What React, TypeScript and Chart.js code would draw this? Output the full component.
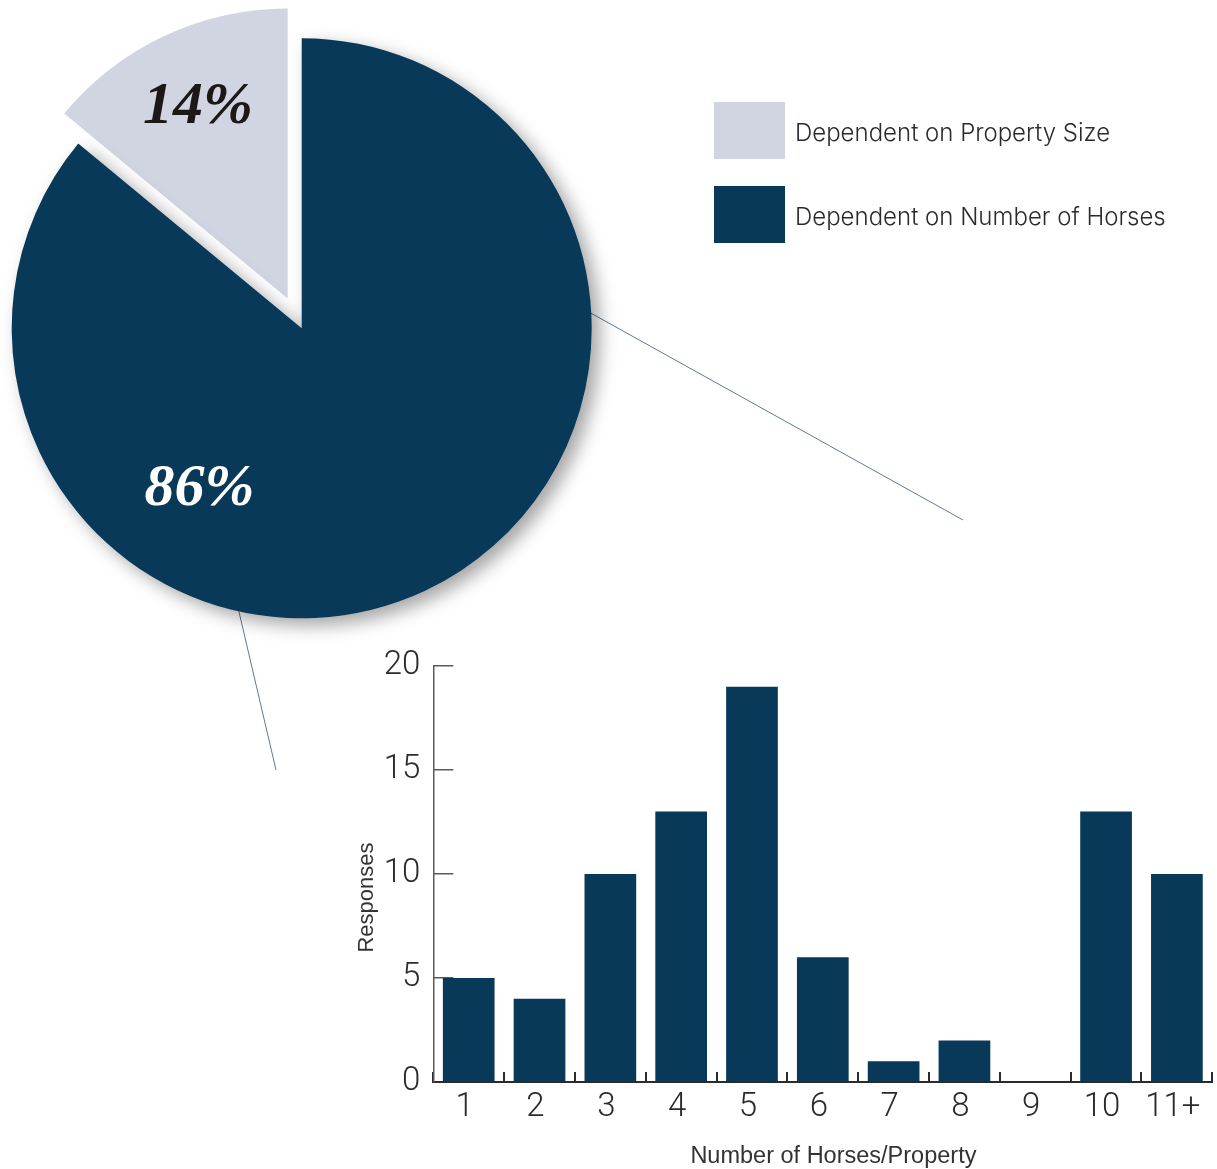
import React, { useEffect, useRef } from 'react';
import { Chart, registerables } from 'chart.js';

Chart.register(...registerables);

// ---------- data ----------
const shareLabels = ['Dependent on Property Size', 'Dependent on Number of Horses'];
const shareValues = [14, 86];
const shareColors = ['#d0d5e1', '#083958'];
const shareTextColors = ['#1c1818', '#ffffff'];

const horseCategories = ['1', '2', '3', '4', '5', '6', '7', '8', '9', '10', '11+'];
const horseResponses = [5, 4, 10, 13, 19, 6, 1, 2, 0, 13, 10];
const responseTicks = [0, 5, 10, 15, 20];

const xTitle = 'Number of Horses/Property';
const yTitle = 'Responses';

// ---------- styling constants ----------
const NAVY = '#083958';
const EXPLODE = [33, 0];
const CASTS_SHADOW = [false, true];
const PIE_LABEL_POS = [
  { r: 0.727, da: 0 },
  { r: 0.657, da: 57.6 },
];

const pieDecor = {
  id: 'pieDecor',
  afterDatasetsUpdate(chart: any) {
    const meta = chart.getDatasetMeta(0);
    meta.data.forEach((arc: any, i: number) => {
      const d = EXPLODE[i] || 0;
      if (d) {
        const mid = (arc.startAngle + arc.endAngle) / 2;
        arc.x += Math.cos(mid) * d;
        arc.y += Math.sin(mid) * d;
      }
      if (!CASTS_SHADOW[i] && !arc.__noShadow) {
        const orig = Object.getPrototypeOf(arc).draw;
        arc.draw = function (ctx: CanvasRenderingContext2D) {
          ctx.save();
          ctx.shadowColor = 'rgba(0,0,0,0)';
          ctx.shadowBlur = 0;
          orig.call(this, ctx);
          ctx.restore();
        };
        arc.__noShadow = true;
      }
    });
  },
  beforeDatasetsDraw(chart: any) {
    const ctx = chart.ctx;
    const meta = chart.getDatasetMeta(0);
    const main = meta.data[1];
    const R = main.outerRadius;
    // connector lines from the pie edge toward the bar chart
    const conns = [
      { a: -3.2, end: [963, 520] },
      { a: 102.7, end: [276, 770] },
    ];
    ctx.save();
    ctx.strokeStyle = '#5f7a8f';
    ctx.lineWidth = 1;
    conns.forEach((c) => {
      const t = (c.a * Math.PI) / 180;
      ctx.beginPath();
      ctx.moveTo(main.x + Math.cos(t) * (R - 2), main.y + Math.sin(t) * (R - 2));
      ctx.lineTo(c.end[0], c.end[1]);
      ctx.stroke();
    });
    ctx.restore();
    ctx.save();
    ctx.shadowColor = 'rgba(0,0,0,0.36)';
    ctx.shadowBlur = 18;
    ctx.shadowOffsetX = 8;
    ctx.shadowOffsetY = 7;
  },
  afterDatasetsDraw(chart: any) {
    const ctx = chart.ctx;
    ctx.restore();
    const meta = chart.getDatasetMeta(0);
    ctx.save();
    ctx.font = 'italic 700 60px "Liberation Serif", "DejaVu Serif", serif';
    ctx.textAlign = 'center';
    ctx.textBaseline = 'middle';
    meta.data.forEach((arc: any, i: number) => {
      const p = PIE_LABEL_POS[i];
      const mid = (arc.startAngle + arc.endAngle) / 2 + (p.da * Math.PI) / 180;
      const r = arc.outerRadius * p.r;
      ctx.fillStyle = shareTextColors[i];
      ctx.fillText(`${shareValues[i]}%`, arc.x + Math.cos(mid) * r, arc.y + Math.sin(mid) * r);
    });
    ctx.restore();
  },
  afterDraw(chart: any) {
    const ctx = chart.ctx;
    const lx = 714;
    const ly = 102;
    const bw = 71;
    const bh = 57;
    const gap = 84;
    ctx.save();
    shareLabels.forEach((lab, i) => {
      ctx.fillStyle = shareColors[i];
      ctx.fillRect(lx, ly + i * gap, bw, bh);
      ctx.fillStyle = '#2b2b2b';
      ctx.font = '300 24px Inter, "Noto Sans", sans-serif';
      ctx.textAlign = 'left';
      ctx.textBaseline = 'alphabetic';
      ctx.fillText(lab, lx + bw + 10, ly + i * gap + 38.5);
    });
    ctx.restore();
  },
};

const barTitles = {
  id: 'barTitles',
  afterDraw(chart: any) {
    const { ctx, chartArea: a } = chart;
    ctx.save();
    ctx.fillStyle = '#333333';
    ctx.textAlign = 'center';
    ctx.textBaseline = 'alphabetic';
    ctx.font = '23.5px "Liberation Sans", Arial, sans-serif';
    ctx.fillText(xTitle, (a.left + a.right) / 2 + 10.6, a.bottom + 81.3);
    ctx.translate(a.left - 60, (a.top + a.bottom) / 2 + 23.5);
    ctx.rotate(-Math.PI / 2);
    ctx.font = '22px "Liberation Sans", Arial, sans-serif';
    ctx.fillText(yTitle, 0, 0);
    ctx.restore();
  },
};

function PieChart() {
  const ref = useRef<HTMLCanvasElement | null>(null);
  useEffect(() => {
    if (!ref.current) return;
    const sum = shareValues.reduce((s, v) => s + v, 0);
    const chart = new Chart(ref.current, {
      type: 'pie',
      data: {
        labels: shareLabels,
        datasets: [
          {
            data: shareValues,
            backgroundColor: shareColors,
            borderWidth: 0,
            hoverOffset: 0,
          },
        ],
      },
      options: {
        animation: false,
        responsive: true,
        maintainAspectRatio: false,
        events: [],
        rotation: (-360 * shareValues[0]) / sum,
        radius: 290,
        layout: { padding: { left: 0, top: 0, right: 1217 - 603.4, bottom: 1169 - 656.6 } },
        plugins: { legend: { display: false }, tooltip: { enabled: false } },
      } as any,
      plugins: [pieDecor],
    });
    return () => chart.destroy();
  }, []);
  return (
    <div style={{ position: 'absolute', left: 0, top: 0, width: 1217, height: 1169 }}>
      <canvas ref={ref} />
    </div>
  );
}

function BarChart() {
  const ref = useRef<HTMLCanvasElement | null>(null);
  useEffect(() => {
    if (!ref.current) return;
    const tickFont = { family: 'Roboto, "Liberation Sans", sans-serif', weight: 300 as any, size: 33 };
    const chart = new Chart(ref.current, {
      type: 'bar',
      data: {
        labels: horseCategories,
        datasets: [
          {
            data: horseResponses,
            backgroundColor: NAVY,
            borderWidth: 0,
            barPercentage: 0.73,
            categoryPercentage: 1,
          },
        ],
      },
      options: {
        animation: false,
        responsive: true,
        maintainAspectRatio: false,
        events: [],
        layout: { padding: { top: 26, right: 4.7, left: 0, bottom: 0 } },
        plugins: { legend: { display: false }, tooltip: { enabled: false } },
        scales: {
          x: {
            grid: {
              display: true,
              drawOnChartArea: false,
              drawTicks: true,
              tickLength: -10,
              color: '#2b2b2b',
              lineWidth: 2,
              offset: true,
            },
            border: { display: true, color: '#2b2b2b', width: 2 },
            ticks: {
              color: '#2b2b2b',
              font: tickFont,
              padding: 16,
              labelOffset: -4,
              maxRotation: 0,
              autoSkip: false,
            },
            afterFit: (s: any) => {
              s.height = 87;
              s.paddingLeft = 0;
              s.paddingRight = 0;
            },
          },
          y: {
            min: 0,
            max: 20,
            grid: {
              display: true,
              drawOnChartArea: false,
              drawTicks: true,
              tickLength: -20,
              color: '#5a5a5a',
              lineWidth: 1.5,
            },
            border: { display: true, color: '#5a5a5a', width: 1.5 },
            ticks: { color: '#2b2b2b', font: tickFont, padding: 33 },
            afterBuildTicks: (s: any) => {
              s.ticks = responseTicks.map((v) => ({ value: v }));
            },
            afterFit: (s: any) => {
              s.width = 103.3;
              s.paddingTop = 0;
              s.paddingBottom = 0;
            },
          },
        },
      } as any,
      plugins: [barTitles],
    });
    return () => chart.destroy();
  }, []);
  return (
    <div style={{ position: 'absolute', left: 330, top: 640, width: 887, height: 529 }}>
      <canvas ref={ref} />
    </div>
  );
}

export default function App() {
  useEffect(() => {
    document.body.style.margin = '0';
    document.body.style.background = '#ffffff';
  }, []);
  return (
    <div style={{ position: 'absolute', left: 0, top: 0, width: 1217, height: 1169, overflow: 'hidden', background: '#ffffff' }}>
      <PieChart />
      <BarChart />
    </div>
  );
}
